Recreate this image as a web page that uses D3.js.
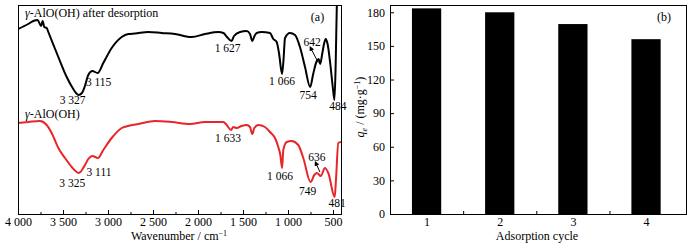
<!DOCTYPE html>
<html>
<head>
<meta charset="utf-8">
<script src="https://cdn.jsdelivr.net/npm/d3@7"></script>
<style>
body{margin:0;background:#fff}
svg{display:block;font-family:"Liberation Serif","Times New Roman",serif}
</style>
</head>
<body>
<svg width="688" height="247"></svg>
<script>
// (a) FTIR spectra, transmittance in arbitrary units
var desorbedWn = [4000,3886,3830,3781,3744,3726,3708,3681,3663,3552,3459,3386,3355,3327,3290,3260,3219,3174,3115,3052,2959,2848,2774,2700,2552,2403,2256,2070,1922,1774,1718,1678,1627,1600,1533,1459,1422,1397,1372,1348,1293,1200,1163,1126,1100,1066,1050,1033,978,922,867,811,754,720,685,660,642,620,600,581,560,530,500,484,470,456,440];
var desorbedT = [185,190,193,194,188,193,187,186,182,157,137,125,121,119,121,127,139,143,141,151,166,177,180,180.5,182,181,180,177,180,182,181,177,173,178,182,183,180,173,178,181,182,181,175,172,161,140,154,176,181,179,167,147,127,140,152,155,150,160,170,175,170,150,125,114,150,215,240];

var pristineWn = [4000,3886,3756,3681,3626,3552,3478,3403,3348,3325,3256,3219,3174,3111,3052,2959,2848,2756,2663,2478,2292,2089,1922,1719,1681,1633,1608,1570,1515,1459,1422,1397,1374,1330,1256,1200,1144,1108,1085,1066,1052,1015,959,886,830,749,708,678,636,589,552,481,467,441,411];
var pristineT = [91,92,93,89,81,66,56,47,42,41,49,55,58,56,64,76,86,88.5,90,93,92,90,92,92,89,84,87,86,88,89,87,80,86,89,87,82,76,67,59,46,64,72,73,69,56,32,39,41,38,46,41,17,34,71,72];

var desorbedPeaks = [3327,3115,1627,1066,754,642,484];
var pristinePeaks = [3325,3111,1633,1066,749,636,481];

var wnTicks = [4000,3500,3000,2500,2000,1500,1000,500];
var wnMinorTicks = [3750,3250,2750,2250,1750,1250,750];

// (b) adsorption capacity per cycle
var cycles = [1,2,3,4];
var capacity = [183.5,180,169.5,156];
var capTicks = [0,30,60,90,120,150,180];
var cycleMinorTicks = [1.5,2.5,3.5];

var svg = d3.select('svg');
var fmt = d3.formatLocale({decimal:'.', thousands:' ', grouping:[3], currency:['','']}).format(',');

var valueAt = (wnArr, tArr, wn) => {
	for (var i = 0; i < wnArr.length - 1; i++) {
		if (wn <= wnArr[i] && wn >= wnArr[i+1]) {
			var f = (wnArr[i] - wn) / (wnArr[i] - wnArr[i+1]);
			return tArr[i] + f * (tArr[i+1] - tArr[i]);
		}
	}
	return tArr[tArr.length-1];
};

// ---------- panel (a) ----------
var a = {left:18, right:341, top:5, bottom:214};
var xa = d3.scaleLinear().domain([4000, 411]).range([a.left, a.right]);
var ya = d3.scaleLinear().domain([0, 209]).range([a.bottom, a.top]);

svg.append('clipPath').attr('id','clipA')
	.append('rect').attr('x',a.left).attr('y',a.top)
	.attr('width',a.right-a.left).attr('height',a.bottom-a.top);

var line = d3.line().x(d => xa(d[0])).y(d => ya(d[1])).curve(d3.curveMonotoneX);

var ga = svg.append('g');
ga.append('path')
	.datum(d3.zip(pristineWn, pristineT))
	.attr('d', line).attr('fill','none').attr('stroke','#e8262a').attr('stroke-width',2)
	.attr('clip-path','url(#clipA)');
ga.append('path')
	.datum(d3.zip(desorbedWn, desorbedT))
	.attr('d', line).attr('fill','none').attr('stroke','#000').attr('stroke-width',2)
	.attr('clip-path','url(#clipA)');

var axA = ga.append('g').attr('transform',`translate(0,${a.bottom})`)
	.call(d3.axisBottom(xa).tickValues(wnTicks).tickSize(-4).tickPadding(3.5).tickFormat(fmt));
axA.append('g').call(d3.axisBottom(xa).tickValues(wnMinorTicks).tickSize(-2).tickFormat(''));
axA.selectAll('.domain').remove();
axA.selectAll('text').attr('font-size',12).attr('font-family','"Liberation Serif",serif').attr('fill','#000');

ga.append('rect').attr('x',a.left+0.5).attr('y',a.top+0.5)
	.attr('width',a.right-a.left).attr('height',a.bottom-a.top)
	.attr('fill','none').attr('stroke','#000');

// peak labels: offsets from each minimum, in pixels
var offsA = {3327:[-6,9],3115:[1,12.5],1627:[-4,11],1066:[0,10.5],754:[-2,11.5],642:[-8,-18],484:[3.5,9.5]};
var offsB = {3325:[-6.5,13.5],3111:[1,17.5],1633:[-3,12],1066:[-2,11.5],749:[-3,13],636:[-4,-15],481:[2.5,9.5]};

svg.append('defs').append('marker').attr('id','head')
	.attr('viewBox','0 0 10 10').attr('refX',1).attr('refY',5)
	.attr('markerWidth',5).attr('markerHeight',5).attr('orient','auto-start-reverse')
	.append('path').attr('d','M0,0L10,5L0,10z').attr('fill','#000');

var peakLabels = (peaks, wnArr, tArr, offs, arrowOff) => {
	peaks.forEach(p => {
		var px = xa(p), py = ya(valueAt(wnArr, tArr, p));
		ga.append('text').attr('x', px + offs[p][0]).attr('y', py + offs[p][1])
			.attr('text-anchor','middle').attr('font-size',11.5).text(fmt(p));
		if (offs[p][1] < 0) {
			ga.append('line')
				.attr('x1', px + arrowOff[0]).attr('y1', py + arrowOff[1])
				.attr('x2', px + arrowOff[2]).attr('y2', py + arrowOff[3])
				.attr('stroke','#000').attr('stroke-width',1)
				.attr('marker-start','url(#head)');
		}
	});
};
peakLabels(desorbedPeaks, desorbedWn, desorbedT, offsA, [-8.5,-14,-2,-1.5]);
peakLabels(pristinePeaks, pristineWn, pristineT, offsB, [-4,-11,-0.8,-4]);

var nameA = ga.append('text').attr('x',25).attr('y',16.5).attr('font-size',12);
nameA.append('tspan').attr('font-style','italic').text('γ');
nameA.append('tspan').text('-AlO(OH) after desorption');
var nameB = ga.append('text').attr('x',25).attr('y',118).attr('font-size',12);
nameB.append('tspan').attr('font-style','italic').text('γ');
nameB.append('tspan').text('-AlO(OH)');

ga.append('text').attr('x',317.5).attr('y',20.5).attr('text-anchor','middle').attr('font-size',12).text('(a)');

var titleA = ga.append('text').attr('x',179).attr('y',240).attr('text-anchor','middle').attr('font-size',12);
titleA.append('tspan').text('Wavenumber / cm');
titleA.append('tspan').attr('font-size',8).attr('dy',-4).text('−1');

// ---------- panel (b) ----------
var b = {left:390, right:687, top:5, bottom:214};
var xb = d3.scaleLinear().domain([0.5, 4.56]).range([b.left, b.right]);
var yb = d3.scaleLinear().domain([0, 186.5]).range([b.bottom, b.top]);
var barW = xb(1.2) - xb(0.8);

var gb = svg.append('g');
gb.selectAll('rect.bar').data(cycles).enter().append('rect')
	.attr('class','bar')
	.attr('x', (d,i) => xb(d) - barW/2)
	.attr('y', (d,i) => yb(capacity[i]))
	.attr('width', barW)
	.attr('height', (d,i) => yb(0) - yb(capacity[i]))
	.attr('fill','#000');

var axBx = gb.append('g').attr('transform',`translate(0,${b.bottom})`)
	.call(d3.axisBottom(xb).tickValues(cycles).tickSize(-4).tickPadding(3.5).tickFormat(d3.format('d')));
axBx.append('g').call(d3.axisBottom(xb).tickValues(cycleMinorTicks).tickSize(-3).tickFormat(''));
var axBy = gb.append('g').attr('transform',`translate(${b.left},0)`)
	.call(d3.axisLeft(yb).tickValues(capTicks).tickSize(-4).tickPadding(5));
gb.selectAll('.domain').remove();
gb.selectAll('.tick text').attr('font-size',12).attr('font-family','"Liberation Serif",serif').attr('fill','#000');

gb.append('rect').attr('x',b.left+0.5).attr('y',b.top+0.5)
	.attr('width',b.right-b.left-1).attr('height',b.bottom-b.top)
	.attr('fill','none').attr('stroke','#000');

gb.append('text').attr('x',664).attr('y',20.5).attr('text-anchor','middle').attr('font-size',12).text('(b)');
gb.append('text').attr('x',537).attr('y',239.5).attr('text-anchor','middle').attr('font-size',12).text('Adsorption cycle');

var titleB = gb.append('text').attr('transform','translate(364,107) rotate(-90)')
	.attr('text-anchor','middle').attr('font-size',12);
titleB.append('tspan').attr('font-style','italic').text('q');
titleB.append('tspan').attr('font-size',8).attr('dy',3).attr('font-style','italic').text('e');
titleB.append('tspan').attr('dy',-3).text(' / (mg·g');
titleB.append('tspan').attr('font-size',8).attr('dy',-4).text('−1');
titleB.append('tspan').attr('dy',4).text(')');
</script>
</body>
</html>
